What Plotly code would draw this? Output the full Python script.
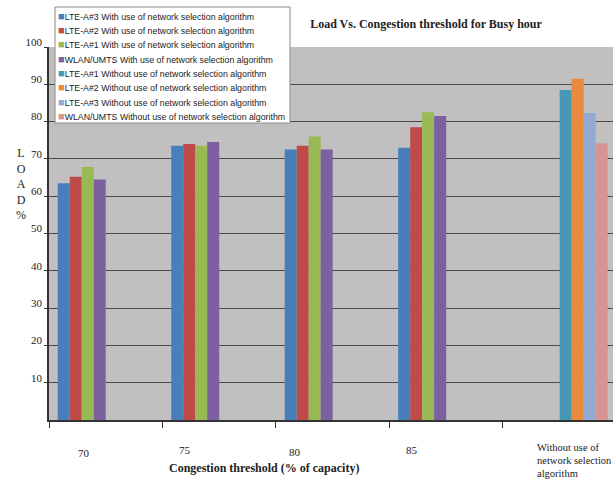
import plotly.graph_objects as go

categories = ["70", "75", "80", "85", "Without"]
series_names = [
    "LTE-A#3 With use of network selection algorithm",
    "LTE-A#2 With use of network selection algorithm",
    "LTE-A#1 With use of network selection algorithm",
    "WLAN/UMTS With use of network selection algorithm",
    "LTE-A#1 Without use of network selection algorithm",
    "LTE-A#2 Without use of network selection algorithm",
    "LTE-A#3 Without use of network selection algorithm",
    "WLAN/UMTS Without use of network selection algorithm",
]
lte3_with = [63.5, 73.5, 72.5, 73, None]
lte2_with = [65.2, 74, 73.5, 78.5, None]
lte1_with = [67.8, 73.5, 76, 82.5, None]
wlan_with = [64.5, 74.5, 72.5, 81.5, None]
lte1_without = [None, None, None, None, 88.5]
lte2_without = [None, None, None, None, 91.5]
lte3_without = [None, None, None, None, 82.3]
wlan_without = [None, None, None, None, 74.2]
values = [lte3_with, lte2_with, lte1_with, wlan_with,
          lte1_without, lte2_without, lte3_without, wlan_without]
colors = ["#4A7EBB", "#BE4B48", "#98B954", "#7D60A0",
          "#4599B4", "#EA8A3E", "#93ABD4", "#D69392"]

tick_labels = ["70", "75", "80", "85"]
last_label_lines = ["Without use of", "network selection", "algorithm"]
y_ticks = [10, 20, 30, 40, 50, 60, 70, 80, 90, 100]

fig = go.Figure()
for name, vals, col in zip(series_names, values, colors):
    fig.add_trace(go.Bar(x=categories, y=vals, name=name, marker_color=col,
                         marker_line_width=0))

W, H = 613, 491
L, T, PW, PH = 49, 47, 564, 373
serif = "Liberation Serif"


def px(xp):
    return (xp - L) / PW


def py(yp):
    return (T + PH - yp) / PH


fig.update_layout(
    width=W, height=H,
    margin=dict(l=L, r=0, t=T, b=H - T - PH, autoexpand=False),
    paper_bgcolor="white", plot_bgcolor="#C0C0C0",
    barmode="group", bargap=0.154, bargroupgap=0,
    showlegend=False,
    title=dict(text="<b>Load Vs. Congestion threshold for Busy hour</b>",
               xref="container", yref="container", x=426 / W, y=1 - 24 / H,
               xanchor="center", yanchor="middle",
               font=dict(family=serif, size=12, color="#222")),
    xaxis=dict(type="category", range=[-0.5, 4.47], showticklabels=False,
               ticks="outside", tickson="boundaries", ticklen=6, tickcolor="#333",
               showline=True, linecolor="#333", linewidth=1.5, showgrid=False),
    yaxis=dict(range=[0, 100], tickvals=y_ticks, ticks="outside", ticklen=3,
               tickcolor="#333", showline=True, linecolor="#333", linewidth=1.5,
               showgrid=True, gridcolor="#4a4a4a", gridwidth=1.3,
               ticklabelshift=-5, zeroline=False,
               tickfont=dict(family=serif, size=11, color="#222")),
)

# custom legend box (compact, as in the reference)
fig.add_shape(type="rect", xref="paper", yref="paper",
              x0=px(55), x1=px(290), y0=py(123), y1=py(7),
              fillcolor="white", line=dict(color="#8a8a8a", width=1), layer="above")
for i, (name, col) in enumerate(zip(series_names, colors)):
    yy = 15.5 + i * 14.4
    fig.add_annotation(text=f"<span style='color:{col};font-size:11px'>■</span>{name}",
                       xref="paper", yref="paper", x=px(55.5), y=py(yy),
                       xanchor="left", yanchor="middle", showarrow=False,
                       font=dict(family="Liberation Sans", size=8.8, color="#222"))

label_x = [84, 185, 295, 412]
label_y = [453, 450, 452, 450]
for i in range(4):
    fig.add_annotation(text=tick_labels[i], xref="paper", yref="paper",
                       x=px(label_x[i]), y=py(label_y[i]),
                       xanchor="center", yanchor="middle", showarrow=False,
                       font=dict(family=serif, size=11, color="#222"))
for j, line in enumerate(last_label_lines):
    fig.add_annotation(text=line, xref="paper", yref="paper",
                       x=px(535), y=py(447 + 13 * j), xanchor="left", yanchor="middle",
                       showarrow=False, font=dict(family=serif, size=10.5, color="#222"))
fig.add_annotation(text="<b>Congestion threshold (% of capacity)</b>", xref="paper", yref="paper",
                   x=px(264), y=py(468), yanchor="middle", showarrow=False,
                   font=dict(family=serif, size=12, color="#222"))
fig.add_annotation(text="L<br>O<br>A<br>D<br>%", xref="paper", yref="paper",
                   x=px(14), y=py(184), yanchor="middle", showarrow=False,
                   align="center",
                   font=dict(family=serif, size=12, color="#222"))

fig.write_html("out.html", config={"displayModeBar": False},
               post_script="document.body.style.margin='0';document.body.style.overflow='hidden';")
